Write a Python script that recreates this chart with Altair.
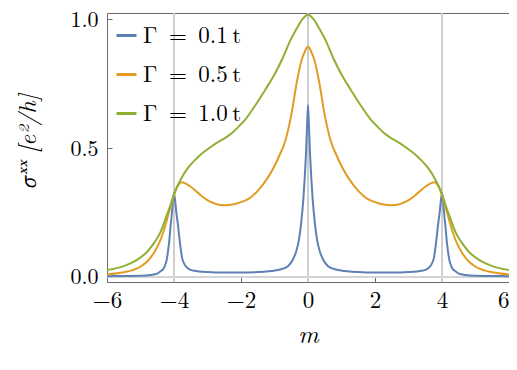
import altair as alt
import pandas as pd

# ---- data ----
series_names = ["Γ\u2002=\u20020.1\u2009t", "Γ\u2002=\u20020.5\u2009t", "Γ\u2002=\u20021.0\u2009t"]
series_colors = ["#5E81B5", "#E19C24", "#8FB032"]

m_blue = [-6.0, -5.5, -5.0, -4.7, -4.5, -4.4, -4.3, -4.22, -4.15, -4.1, -4.06, -4.03, -4.0,
          -3.97, -3.93, -3.88, -3.82, -3.76, -3.68, -3.57, -3.4, -3.0, -2.5, -2.0, -1.5, -1.1,
          -0.8, -0.6, -0.45, -0.35, -0.27, -0.2, -0.14, -0.1, -0.06, -0.03, 0.0,
          0.03, 0.06, 0.1, 0.14, 0.2, 0.27, 0.35, 0.45, 0.6, 0.8, 1.1, 1.5, 2.0, 2.5, 3.0,
          3.4, 3.57, 3.68, 3.76, 3.82, 3.88, 3.93, 3.97, 4.0, 4.03, 4.06, 4.1, 4.15, 4.22,
          4.3, 4.4, 4.5, 4.7, 5.0, 5.5, 6.0]
v_blue = [0.003, 0.004, 0.005, 0.008, 0.013, 0.022, 0.035, 0.066, 0.13, 0.20, 0.25, 0.30, 0.325,
          0.30, 0.25, 0.20, 0.13, 0.075, 0.048, 0.032, 0.024, 0.019, 0.017, 0.017, 0.019, 0.023,
          0.030, 0.042, 0.068, 0.10, 0.145, 0.215, 0.30, 0.38, 0.48, 0.58, 0.667,
          0.58, 0.48, 0.38, 0.30, 0.215, 0.145, 0.10, 0.068, 0.042, 0.030, 0.023, 0.019, 0.017, 0.017, 0.019,
          0.024, 0.032, 0.048, 0.075, 0.13, 0.20, 0.25, 0.30, 0.325, 0.30, 0.25, 0.20, 0.13, 0.066,
          0.035, 0.022, 0.013, 0.008, 0.005, 0.004, 0.003]

m_orange = [-6.0, -5.5, -5.07, -4.8, -4.57, -4.4, -4.27, -4.15, -4.05, -3.97, -3.88, -3.78, -3.68,
            -3.5, -3.3, -3.03, -2.75, -2.5, -2.25, -2.0, -1.75, -1.48, -1.18, -1.0, -0.87, -0.67,
            -0.49, -0.34, -0.19, -0.09, 0.0,
            0.09, 0.19, 0.34, 0.49, 0.67, 0.87, 1.0, 1.18, 1.48, 1.75, 2.0, 2.25, 2.5, 2.75, 3.03,
            3.3, 3.5, 3.68, 3.78, 3.88, 3.97, 4.05, 4.15, 4.27, 4.4, 4.57, 4.8, 5.07, 5.5, 6.0]
v_orange = [0.010, 0.018, 0.035, 0.06, 0.10, 0.145, 0.195, 0.25, 0.295, 0.33, 0.355, 0.367, 0.364,
            0.350, 0.328, 0.300, 0.283, 0.278, 0.281, 0.290, 0.305, 0.337, 0.389, 0.43, 0.466, 0.531,
            0.634, 0.751, 0.841, 0.875, 0.893,
            0.875, 0.841, 0.751, 0.634, 0.531, 0.466, 0.43, 0.389, 0.337, 0.305, 0.290, 0.281, 0.278, 0.283, 0.300,
            0.328, 0.350, 0.364, 0.367, 0.355, 0.33, 0.295, 0.25, 0.195, 0.145, 0.10, 0.06, 0.035, 0.018, 0.010]

m_green = [-6.0, -5.5, -5.07, -4.8, -4.57, -4.4, -4.27, -4.13, -4.0, -3.9, -3.75, -3.6, -3.4, -3.2,
           -2.95, -2.7, -2.48, -2.25, -2.08, -1.88, -1.6, -1.28, -1.0, -0.75, -0.52, -0.35, -0.18, 0.0,
           0.18, 0.35, 0.52, 0.75, 1.0, 1.28, 1.6, 1.88, 2.08, 2.25, 2.48, 2.7, 2.95, 3.2, 3.4, 3.6,
           3.75, 3.9, 4.0, 4.13, 4.27, 4.4, 4.57, 4.8, 5.07, 5.5, 6.0]
v_green = [0.027, 0.042, 0.069, 0.098, 0.137, 0.175, 0.22, 0.27, 0.32, 0.352, 0.39, 0.42, 0.45, 0.475,
           0.50, 0.522, 0.538, 0.56, 0.582, 0.609, 0.66, 0.725, 0.785, 0.85, 0.919, 0.96, 0.997, 1.017,
           0.997, 0.96, 0.919, 0.85, 0.785, 0.725, 0.66, 0.609, 0.582, 0.56, 0.538, 0.522, 0.50, 0.475, 0.45, 0.42,
           0.39, 0.352, 0.32, 0.27, 0.22, 0.175, 0.137, 0.098, 0.069, 0.042, 0.027]

grid_x = [-4, 0, 4]
grid_y = [0]
x_ticks = [-6, -4, -2, 0, 2, 4, 6]
y_ticks = [0.0, 0.5, 1.0]

# ---- build table ----
rows = []
for name, ms, vs in zip(series_names, [m_blue, m_orange, m_green], [v_blue, v_orange, v_green]):
    for m, v in zip(ms, vs):
        rows.append({"m": m, "s": v, "series": name})
df = pd.DataFrame(rows)

FONT = "Latin Modern Roman, Libertinus Serif, Noto Serif, Liberation Serif, DejaVu Serif, serif"
GRAY = "#6a6a6a"

x_enc = alt.X("m:Q",
              scale=alt.Scale(domain=[-6, 6], nice=False, zero=False),
              axis=alt.Axis(values=x_ticks, format="d", offset=-5, tickSize=5, domain=False,
                            grid=False, tickColor=GRAY, labelFont=FONT, labelFontSize=23,
                            labelColor="black", labelPadding=7, labelOverlap=False,
                            labelAlign={"expr": "datum.value >= 6 ? 'right' : 'center'"},
                            title="m", titleFont=FONT, titleFontStyle="italic", titleFontSize=25,
                            titleFontWeight="normal", titleColor="black", titleX=201, titleY=65,
                            titleBaseline="alphabetic", titleAlign="center"))
y_enc_axis = alt.Axis(values=y_ticks, format=".1f", offset=-5, tickSize=5, domain=False,
                      grid=False, tickColor=GRAY, labelFont=FONT, labelFontSize=22,
                      labelColor="black", labelPadding=9, labelOverlap=False,
                      labelBaseline="alphabetic", labelOffset=7,
                      title="σˣˣ [e²/h]", titleFont=FONT, titleFontStyle="italic", titleFontSize=24,
                      titleFontWeight="normal", titleColor="black", titleAngle=270,
                      titleX=-84, titleY=128, titleBaseline="middle", titleAlign="center")
y_scale = alt.Scale(domain=[-0.0194, 1.0233], nice=False, zero=False)

vrules = alt.Chart(pd.DataFrame({"m": grid_x})).mark_rule(
    color="#cfcfcf", strokeWidth=2).encode(x=x_enc)
hrules = alt.Chart(pd.DataFrame({"s": grid_y})).mark_rule(
    color="#d4d4d4", strokeWidth=2).encode(y=alt.Y("s:Q", scale=y_scale, axis=y_enc_axis))

lines = alt.Chart(df).mark_line(strokeWidth=2, interpolate="monotone", clip=True).encode(
    x=x_enc,
    y=alt.Y("s:Q", scale=y_scale, axis=y_enc_axis),
    color=alt.Color("series:N",
                    scale=alt.Scale(domain=series_names, range=series_colors),
                    sort=series_names,
                    legend=alt.Legend(orient="none", legendX=8, legendY=11, title=None,
                                      symbolType="stroke", symbolSize=400, symbolStrokeWidth=3,
                                      labelFont=FONT, labelFontSize=23, labelColor="black",
                                      labelOffset=5, rowPadding=15, padding=0)),
)

chart = alt.layer(vrules, hrules, lines).properties(
    width=402, height=269,
    autosize=alt.AutoSizeParams(type="none"),
    padding={"left": 99, "top": 5, "right": 0, "bottom": 66},
).configure_view(stroke=GRAY, strokeWidth=1)

chart.save("out.html", embed_options={"renderer": "svg", "actions": False})
